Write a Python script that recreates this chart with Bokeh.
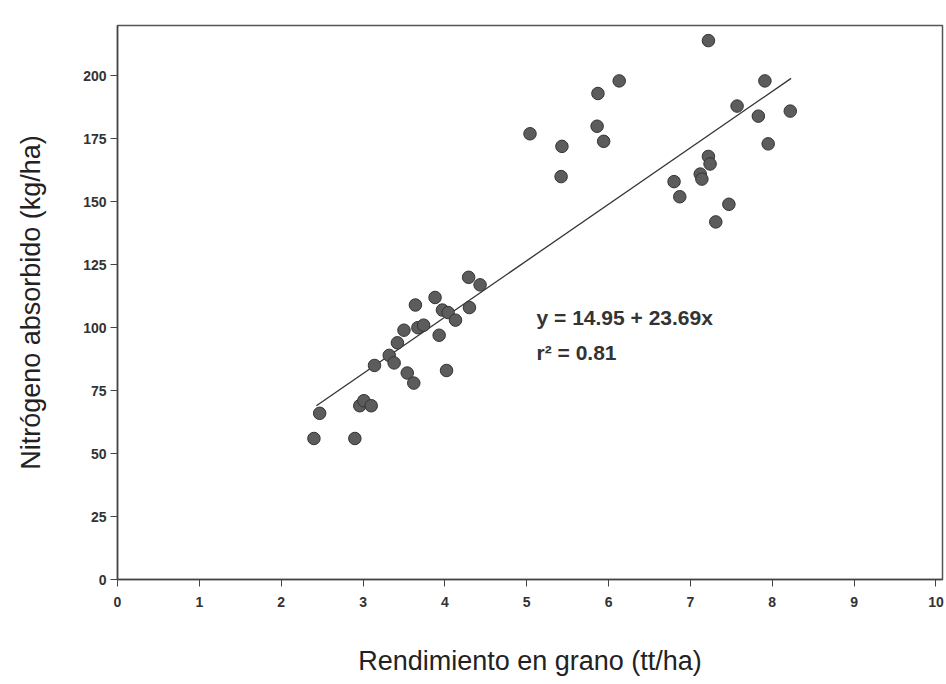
from bokeh.plotting import figure
from bokeh.models import Range1d, FixedTicker, ColumnDataSource
from bokeh.embed import file_html
from bokeh.resources import INLINE
from bokeh.core.properties import value

# Data
rend = [2.40, 2.47, 2.90, 2.96, 3.01, 3.10, 3.14, 3.32, 3.38, 3.42, 3.50, 3.54, 3.62,
        3.64, 3.67, 3.74, 3.88, 3.93, 3.97, 4.02, 4.04, 4.13, 4.30, 4.29, 4.43,
        5.04, 5.42, 5.43, 5.87, 5.86, 5.94, 6.13, 6.80, 6.87, 7.12, 7.14, 7.22,
        7.24, 7.22, 7.31, 7.47, 7.57, 7.83, 7.91, 7.95, 8.22]
nitro = [56, 66, 56, 69, 71, 69, 85, 89, 86, 94, 99, 82, 78,
         109, 100, 101, 112, 97, 107, 83, 106, 103, 108, 120, 117,
         177, 160, 172, 193, 180, 174, 198, 158, 152, 161, 159, 168,
         165, 214, 142, 149, 188, 184, 198, 173, 186]
fit_x = [2.43, 8.23]
fit_y = [69, 199]
x_ticks = [0, 1, 2, 3, 4, 5, 6, 7, 8, 9, 10]
y_ticks = [0, 25, 50, 75, 100, 125, 150, 175, 200]
eq_text = ["y = 14.95 + 23.69x", "r\u00b2 = 0.81"]
eq_x = [5.12, 5.12]
eq_y = [104, 90]

p = figure(width=946, height=684, output_backend="svg", toolbar_location=None,
           x_range=Range1d(0, 10.08), y_range=Range1d(0, 220),
           min_border_left=117, min_border_right=4, min_border_top=25, min_border_bottom=105)
p.background_fill_color = "white"
p.border_fill_color = "white"
p.grid.visible = False
p.outline_line_color = "#555555"
p.outline_line_width = 1.5

src = ColumnDataSource(dict(x=rend, y=nitro))
p.line(fit_x, fit_y, line_color="#333333", line_width=1.3)
p.scatter("x", "y", source=src, size=12.5, fill_color="#5c5c5c", line_color="#333333",
          line_width=1)

p.text(x=eq_x, y=eq_y, text=eq_text, text_font=value("Liberation Sans"),
       text_font_size="21px", text_font_style="bold", text_color="#333333",
       text_baseline="middle", text_align="left")

for ax in (p.xaxis[0], p.yaxis[0]):
    ax.axis_line_color = "#444444"
    ax.axis_line_width = 1.5
    ax.major_tick_line_color = "#444444"
    ax.major_tick_out = 7
    ax.major_tick_in = 0
    ax.minor_tick_line_color = None
    ax.major_label_text_font = "Liberation Sans"
    ax.major_label_text_font_size = "14px"
    ax.major_label_text_font_style = "bold"
    ax.major_label_text_color = "#333333"
    ax.axis_label_text_font = "Liberation Sans"
    ax.axis_label_text_font_size = "27px"
    ax.axis_label_text_font_style = "normal"
    ax.axis_label_text_color = "#222222"

p.xaxis.ticker = FixedTicker(ticks=x_ticks)
p.yaxis.ticker = FixedTicker(ticks=y_ticks)
p.xaxis.axis_label = "Rendimiento en grano (tt/ha)"
p.yaxis.axis_label = "Nitrógeno absorbido (kg/ha)"
p.xaxis.major_label_standoff = 10
p.yaxis.major_label_standoff = 4
p.xaxis.axis_label_standoff = 36
p.yaxis.axis_label_standoff = 34

open("out.html", "w").write(file_html(p, INLINE))
